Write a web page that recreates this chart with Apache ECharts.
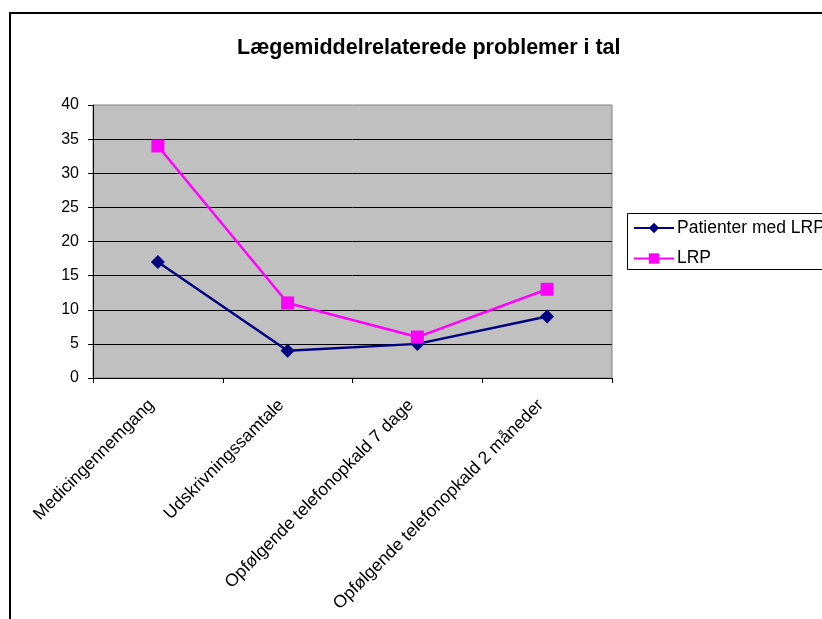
<!DOCTYPE html>
<html>
<head>
<meta charset="utf-8">
<script src="https://cdn.jsdelivr.net/npm/echarts@6/dist/echarts.min.js"></script>
<style>
  html, body { margin: 0; padding: 0; background: #fff; }
  #chart { width: 822px; height: 619px; }
</style>
</head>
<body>
<div id="chart"></div>
<script>
// Categories along the x axis
const categories = [
  'Medicingennemgang',
  'Udskrivningssamtale',
  'Opfølgende telefonopkald 7 dage',
  'Opfølgende telefonopkald 2 måneder'
];
// Series values
const patienterMedLRP = [17, 4, 5, 9];
const lrp = [34, 11, 6, 13];
// Value axis range
const yMin = 0;
const yMax = 40;
const yStep = 5;

const titleText = 'Lægemiddelrelaterede problemer i tal';
const seriesNames = ['Patienter med LRP', 'LRP'];

const FONT = 'Liberation Sans, Arial, sans-serif';

const chart = echarts.init(document.getElementById('chart'), null, { renderer: 'canvas' });

chart.setOption({
  animation: false,
  backgroundColor: '#ffffff',
  textStyle: { fontFamily: FONT },
  title: {
    text: titleText,
    left: 237,
    top: 37,
    padding: 0,
    textStyle: { fontFamily: FONT, fontSize: 21.5, fontWeight: 'bold', color: '#000' }
  },
  legend: {
    orient: 'vertical',
    left: 633,
    top: 219,
    padding: 0,
    itemWidth: 40,
    itemHeight: 13,
    itemGap: 12.5,
    textStyle: { fontFamily: FONT, fontSize: 17.5, color: '#000', padding: [0, 0, 0, -2] },
    data: seriesNames
  },
  grid: {
    left: 93,
    top: 105,
    right: 210,
    bottom: 241,
    show: true,
    backgroundColor: '#c0c0c0',
    borderColor: '#808080',
    borderWidth: 1
  },
  xAxis: {
    type: 'category',
    data: categories,
    boundaryGap: true,
    axisLine: { lineStyle: { color: '#000', width: 1 } },
    axisTick: { show: true, length: 5, alignWithLabel: false, lineStyle: { color: '#000' } },
    axisLabel: {
      rotate: 45,
      interval: 0,
      margin: 18,
      padding: [0, 9, 0, 0],
      fontFamily: FONT,
      fontSize: 17.5,
      color: '#000'
    },
    splitLine: { show: false }
  },
  yAxis: {
    type: 'value',
    min: yMin,
    max: yMax,
    interval: yStep,
    axisLine: { show: true, lineStyle: { color: '#000', width: 1 } },
    axisTick: { show: true, length: 5, lineStyle: { color: '#000' } },
    axisLabel: { margin: 14, fontFamily: FONT, fontSize: 16, color: '#000' },
    splitLine: { show: true, showMaxLine: false, lineStyle: { color: '#000', width: 1 } }
  },
  series: [
    {
      name: seriesNames[0],
      type: 'line',
      data: patienterMedLRP,
      symbol: 'diamond',
      symbolSize: 14,
      itemStyle: { color: '#000080' },
      lineStyle: { color: '#000080', width: 2.5 },
      z: 3
    },
    {
      name: seriesNames[1],
      type: 'line',
      data: lrp,
      symbol: 'rect',
      symbolSize: 13,
      itemStyle: { color: '#ff00ff' },
      lineStyle: { color: '#ff00ff', width: 2.5 },
      z: 4
    }
  ],
  graphic: [
    {
      type: 'rect',
      shape: { x: 10, y: 13, width: 900, height: 700 },
      style: { fill: 'none', stroke: '#000', lineWidth: 2 },
      silent: true,
      z: -1
    },
    {
      type: 'rect',
      shape: { x: 627.5, y: 213.5, width: 300, height: 56 },
      style: { fill: 'none', stroke: '#000', lineWidth: 1 },
      silent: true
    }
  ]
});
</script>
</body>
</html>
